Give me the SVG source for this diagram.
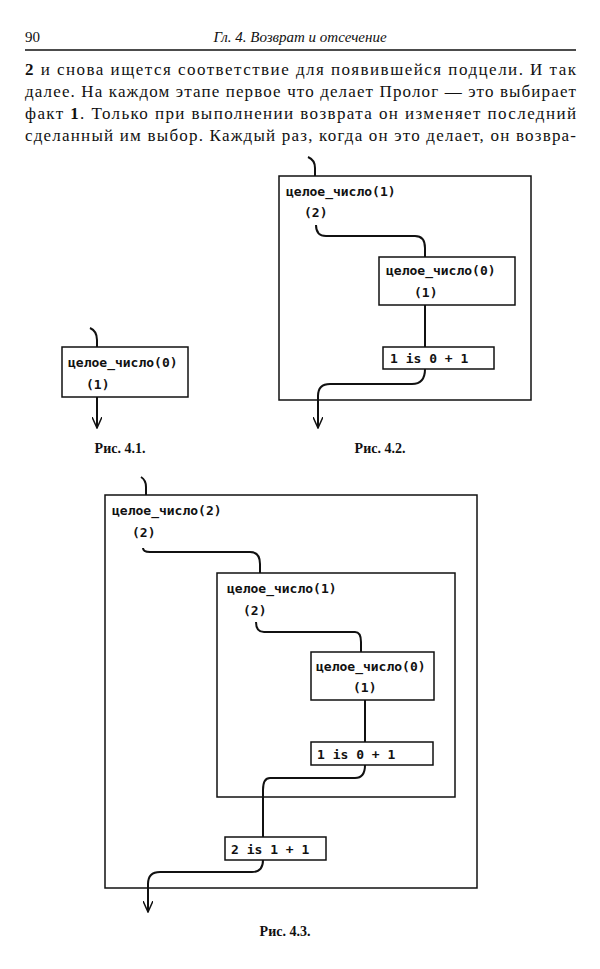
<svg xmlns="http://www.w3.org/2000/svg" width="600" height="969" viewBox="0 0 600 969">
<style>
.body{font-family:"Liberation Serif",serif;font-size:17px;fill:#111}
.lbl{font-family:"DejaVu Sans Mono",monospace;font-size:13px;font-weight:bold;fill:#111}
.cap{font-family:"Liberation Serif",serif;font-size:14px;font-weight:bold;fill:#111}
.box{fill:none;stroke:#111;stroke-width:1.5}
.ln{fill:none;stroke:#111;stroke-width:2}
</style>
<defs><marker id="ar" markerWidth="12" markerHeight="10" refX="11" refY="5" orient="auto" markerUnits="userSpaceOnUse"><path d="M0,0 L11,5 L0,10" fill="none" stroke="#111" stroke-width="1.5"/></marker></defs>
<rect width="600" height="969" fill="#fff"/>
<g id="header">
<text x="25" y="42" class="body" style="font-size:15px">90</text>
<text x="300" y="42" class="body" text-anchor="middle" style="font-size:15px;font-style:italic">Гл. 4. Возврат и отсечение</text>
<line x1="25" y1="50" x2="576" y2="50" stroke="#111" stroke-width="1.5"/>
</g>
<g id="bodytext">
<text x="25" y="75" class="body" textLength="551" lengthAdjust="spacing"><tspan font-weight="bold">2</tspan> и снова ищется соответствие для появившейся подцели. И так</text>
<text x="25" y="97" class="body" textLength="551" lengthAdjust="spacing">далее. На каждом этапе первое что делает Пролог — это выбирает</text>
<text x="25" y="119" class="body" textLength="551" lengthAdjust="spacing">факт <tspan font-weight="bold">1</tspan>. Только при выполнении возврата он изменяет последний</text>
<text x="25" y="141" class="body" textLength="551" lengthAdjust="spacing">сделанный им выбор. Каждый раз, когда он это делает, он возвра-</text>
</g>
<g id="fig41">
<rect x="62" y="347" width="126" height="50" class="box"/>
<text x="68" y="367" class="lbl">целое_число(0)</text>
<text x="86" y="389" class="lbl">(1)</text>
<text x="120" y="453" class="cap" text-anchor="middle">Рис. 4.1.</text>
</g>
<g id="fig42">
<rect x="279" y="176" width="252" height="224" class="box"/>
<text x="286" y="196" class="lbl">целое_число(1)</text>
<text x="304" y="217" class="lbl">(2)</text>
<rect x="379" y="257" width="136" height="48" class="box"/>
<text x="386" y="275" class="lbl">целое_число(0)</text>
<text x="414" y="297" class="lbl">(1)</text>
<rect x="383" y="347" width="111" height="22" class="box"/>
<text x="390" y="363" class="lbl">1 is 0 + 1</text>
<text x="380" y="453" class="cap" text-anchor="middle">Рис. 4.2.</text>
</g>
<g id="fig43">
<rect x="105" y="495" width="372" height="393" class="box"/>
<text x="112" y="515" class="lbl">целое_число(2)</text>
<text x="132" y="537" class="lbl">(2)</text>
<rect x="217" y="573" width="238" height="224" class="box"/>
<text x="227" y="593" class="lbl">целое_число(1)</text>
<text x="243" y="615" class="lbl">(2)</text>
<rect x="311" y="652" width="123" height="48" class="box"/>
<text x="316" y="671" class="lbl">целое_число(0)</text>
<text x="353" y="692" class="lbl">(1)</text>
<rect x="311" y="742" width="122" height="23" class="box"/>
<text x="317" y="759" class="lbl">1 is  0 + 1</text>
<rect x="225" y="837" width="101" height="23" class="box"/>
<text x="231" y="854" class="lbl">2 is 1 + 1</text>
<text x="285" y="936" class="cap" text-anchor="middle">Рис. 4.3.</text>
</g>
<g id="connectors">
<path class="ln" d="M90,328 Q97,331 97,340 L97,347"/>
<path class="ln" d="M97,397 L97,428" marker-end="url(#ar)"/>
<path class="ln" d="M308,157 Q315,160 315,168 L315,176"/>
<path class="ln" d="M316,225 Q316,236 326,236 L415,236 Q425,236 425,248 L425,257"/>
<path class="ln" d="M425,305 L425,347"/>
<path class="ln" d="M425,369 Q425,384 412,384 L330,384 Q318,384 318,396 L318,428" marker-end="url(#ar)"/>
<path class="ln" d="M141,477 Q146,480 146,487 L146,495"/>
<path class="ln" d="M143,548 Q143,552 150,552 L250,552 Q260,552 260,564 L260,573"/>
<path class="ln" d="M256,622 Q256,632 264,632 L355,632 Q361,632 361,642 L361,652"/>
<path class="ln" d="M365,700 L365,742"/>
<path class="ln" d="M365,765 Q365,778 355,778 L270,778 Q263,778 263,790 L263,837"/>
<path class="ln" d="M263,860 Q263,872 252,872 L160,872 Q148,872 148,884 L148,912" marker-end="url(#ar)"/>
</g>
</svg>
